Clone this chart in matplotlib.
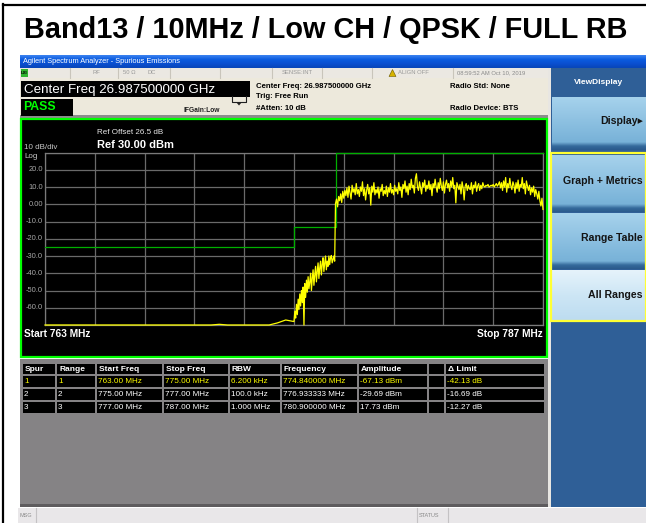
import numpy as np
import matplotlib
matplotlib.use("Agg")
import matplotlib.pyplot as plt
from matplotlib.patches import Rectangle, Polygon
from matplotlib.colors import LinearSegmentedColormap

plt.rcParams['font.family'] = ['Liberation Sans', 'DejaVu Sans']

# ---------------- data ----------------
title = "Band13 / 10MHz / Low CH / QPSK / FULL RB"
start_mhz = 763.0
stop_mhz = 787.0
ref_dbm = 30.0
bottom_dbm = -70.0
y_tick_vals = [20, 10, 0, -10, -20, -30, -40, -50, -60]
y_tick_labels = ["20.0", "10.0", "0.00", "-10.0", "-20.0", "-30.0", "-40.0", "-50.0", "-60.0"]

# limit line (MHz, dBm)
limit_freq = [763.0, 775.0, 775.0, 777.0, 777.0, 787.0]
limit_dbm = [-25.0, -25.0, -13.0, -13.0, 30.0, 30.0]

# trace, range 1 : 763-775 MHz (sits on the display floor)
range1_dbm = [-70.0, -70.0, -70.0, -70.0, -70.0, -70.0, -70.0, -70.0, -70.0, -70.0,
              -70.0, -70.0, -70.0, -70.0, -70.0, -70.0, -70.0, -70.0, -70.0, -70.0,
              -70.0, -69.6, -70.0, -70.0, -70.0, -70.0, -70.0, -70.0, -68.8, -67.1]
# trace, range 2 : 775-777 MHz
range2_dbm = [-68, -62, -66, -58, -64, -55, -61, -52, -59, -50,
              -57, -48, -70, -46, -54, -44, -51, -42, -49, -45,
              -40, -50, -43, -38, -47, -41, -36, -45, -39, -34,
              -43, -37, -33, -41, -35, -31, -39, -34, -30, -38,
              -33, -36, -30, -35, -31, -29.7, -34, -32, -30, -33]
# trace, range 3 : 777-787 MHz
range3_dbm = [0.5, 3.0, -1.5, 4.5, 2.0, 6.0, 1.0, 7.5, 3.5, 8.0,
              5.0, 9.5, 4.0, 10.5, 6.5, 3.0, 11.0, 7.0, 9.0, 5.5,
              12.0, 6.0, 8.5, 4.5, 10.0, 7.5, 13.0, 5.0, 9.0, 2.5,
              8.0, 11.5, 6.0, 9.5, -0.5, 10.5, 7.0, 12.5, 5.5, 8.5,
              6.5, 10.0, 3.5, 9.0, 7.5, 11.5, 5.0, 8.0, 6.0, 10.5,
              4.5, 9.5, 7.0, 12.0, 6.5, 8.5, 5.5, 11.0, 7.5, 9.0,
              6.0, 12.5, 8.0, 10.0, 4.0, 11.5, 9.0, 13.5, 7.0, 10.5,
              5.5, 12.0, 8.5, 14.5, 9.5, 11.0, 6.5, 15.0, 17.7, 10.0,
              8.0, 13.0, 9.5, 6.0, 12.5, 10.0, 14.0, 7.5, 11.0, 9.0,
              13.5, 8.5, 11.5, 5.0, 12.0, 9.5, 14.5, 10.0, 7.0, 12.5,
              9.0, 15.0, 10.5, 8.0, 13.0, 6.5, 11.5, 14.0, 9.5, 12.0,
              7.5, 13.5, 10.0, 15.5, 9.0, 11.0, 0.8, 12.5, 10.5, 8.5,
              11.5, 6.0, 13.0, 9.5, 2.5, 10.5, 12.0, 8.0, 11.0, 9.0,
              8.5, 12.5, 6.0, 11.0, 9.5, 13.0, 7.5, 10.5, 12.0, 8.0,
              11.0, 9.0, 12.5, 10.5, 10.0, 11.0, 10.5, 11.5, 10.0, 10.5,
              11.0, 10.5, 11.5, 10.0, 11.0, 12.0, 10.5, 11.5, 13.0, 9.5,
              12.5, 8.0, 13.5, 10.0, 15.5, 7.0, 12.0, 9.5, 15.0, 10.5,
              8.5, 13.0, 11.0, 6.5, 12.5, 9.0, 14.0, 7.5, 11.5, 10.0,
              15.5, 9.0, 12.0, 6.0, 13.5, 10.5, 8.0, 11.0, 5.5, 9.5,
              7.0, 10.5, 4.5, 8.5, 6.0, 3.0, 7.5, 2.0, -1.0, 3.5,
              -3.0]
range_edges = [763.0, 775.0, 777.0, 787.0]

# results table
spur_no = [1, 2, 3]
range_no = [1, 2, 3]
range_start = [763.00, 775.00, 777.00]
range_stop = [775.00, 777.00, 787.00]
rbw_text = ["6.200 kHz", "100.0 kHz", "1.000 MHz"]
spur_freq = [774.840000, 776.933333, 780.900000]
spur_amp = [-67.13, -29.69, 17.73]
range_limit = [-25.0, -13.0, 30.0]
table_header = ["Spur", "Range", "Start Freq", "Stop Freq", "RBW", "Frequency", "Amplitude", "", "\u0394 Limit"]

# ---------------- figure ----------------
W, H = 646, 523
fig = plt.figure(figsize=(W / 100, H / 100), dpi=100)
fig.patch.set_facecolor("white")
ui = fig.add_axes([0, 0, 1, 1])
ui.set_axis_off()


def rect(x0, y0, x1, y1, fc, ec="none", lw=0, z=1):
    ui.add_patch(Rectangle((x0, y0), x1 - x0, y1 - y0, facecolor=fc, edgecolor=ec, linewidth=lw, zorder=z))


def grad(x0, y0, x1, y1, colors, z=1):
    cmap = LinearSegmentedColormap.from_list("g", colors)
    ui.imshow(np.linspace(0, 1, 64).reshape(-1, 1), cmap=cmap, extent=[x0, x1, y1, y0],
              aspect="auto", zorder=z, interpolation="bilinear")


def txt(x, y, s, size, color="black", weight="normal", ha="left", va="center", z=5, **kw):
    ui.text(x, y, s, fontsize=size, color=color, fontweight=weight, ha=ha, va=va, zorder=z, **kw)


# outer frame
ui.plot([3, 3], [4, 523], color="black", lw=1.6, zorder=6)
ui.plot([3, 646], [4.5, 4.5], color="black", lw=1.6, zorder=6)

# title
txt(326, 30, title, 20.8, weight="bold", ha="center")

# window title bar
grad(20, 55, 646, 68, ["#3d84f0", "#0b5ce0", "#0a4fd0", "#0846b8"])
txt(23, 61.5, "Agilent Spectrum Analyzer - Spurious Emissions", 5.3, color="white")

# main beige background
rect(20, 68, 550, 118, "#ede9dc")
# status row
rect(20, 68, 550, 78, "#ebe8e2")
for xd in [70, 118, 170, 220, 272, 322, 372, 453]:
    ui.plot([xd, xd], [68, 78], color="#c9c5bb", lw=0.8, zorder=3)
rect(21, 69, 28, 77, "#2fb52f", z=3)
txt(24.5, 73, "LXI", 3.2, color="black", ha="center", weight="bold")
txt(96, 73, "RF", 4.2, color="#9a9a9a", ha="center")
txt(129, 73, "50 \u03a9", 4.2, color="#9a9a9a", ha="center")
txt(152, 73, "DC", 4.2, color="#9a9a9a", ha="center")
txt(297, 73, "SENSE:INT", 4.2, color="#9a9a9a", ha="center")
ui.add_patch(Polygon([[389, 76.5], [396, 76.5], [392.5, 69.5]], closed=True, facecolor="#d7b400",
                     edgecolor="#6b5a00", lw=0.4, zorder=4))
txt(398, 73, "ALIGN OFF", 4.2, color="#9a9a9a")
txt(457, 73, "08:59:52 AM Oct 10, 2019", 4.2, color="#8a8a8a")

# center freq box + PASS box
rect(21, 81, 250, 97, "black", z=3)
txt(24, 89.5, "Center Freq 26.987500000 GHz", 9.6, color="white", z=6)
rect(21, 99, 73, 116, "black", z=3)
txt(23, 107.5, "PASS", 8.8, color="#00ff00", weight="bold", z=6)
txt(183, 111, "IFGain:Low", 4.8, weight="bold", color="#202020")
ui.plot([232, 232, 246, 246], [96, 102, 102, 96], color="#202020", lw=0.8, zorder=4)
ui.add_patch(Polygon([[236, 102], [242, 102], [239, 105.5]], closed=True, facecolor="#202020", zorder=4))

# measurement info
txt(256, 87, "Center Freq: 26.987500000 GHz", 5.6, weight="bold")
txt(256, 97, "Trig: Free Run", 5.6, weight="bold")
txt(256, 108, "#Atten: 10 dB", 5.6, weight="bold")
txt(450, 87, "Radio Std: None", 5.6, weight="bold")
txt(450, 108, "Radio Device: BTS", 5.6, weight="bold")

# soft key panel
rect(550, 68, 646, 507, "#2f5f97", z=1)
rect(548, 68, 551, 507, "#e8e6e2", z=2)
txt(598, 82, "ViewDisplay", 6.0, color="white", weight="bold", ha="center")


def softkey(y0, y1, top, bottom, label, z=3):
    grad(552, y0, 646, y1 - 8, [top, bottom], z=z)
    grad(552, y1 - 8, 646, y1, [bottom, "#356a9c", "#2a5a8c"], z=z)
    txt(643, (y0 + y1 - 6) / 2, label, 7.6, weight="bold", ha="right", color="#141414", z=z + 2)


softkey(97, 150, "#a6d2ec", "#78b2d8", "Display\u25b8")
rect(550.5, 153, 646, 321, "none", ec="#ffff33", lw=1.6, z=6)
softkey(155, 212, "#a6d2ec", "#78b2d8", "Graph + Metrics")
softkey(213, 269, "#a6d2ec", "#78b2d8", "Range Table")
grad(552, 270, 646, 320, ["#e6f3fb", "#cde6f5", "#bddcf0"], z=3)
txt(643, 295, "All Ranges", 7.6, weight="bold", ha="right", color="#141414")

# graph window
rect(20, 115, 548, 118, "#8c8c8c", z=2)
rect(21, 118.5, 547, 357, "black", ec="#00ff00", lw=1.6, z=2)
txt(97, 133, "Ref Offset 26.5 dB", 5.8, color="#e8e8e8")
txt(97, 145, "Ref 30.00 dBm", 8.0, color="white", weight="bold")
txt(24, 147.5, "10 dB/div", 5.8, color="#c8c8c8")
txt(24, 157, "Log", 5.8, color="#c8c8c8")
txt(24, 334, "Start %d MHz" % start_mhz, 7.3, color="white", weight="bold")
txt(543, 334, "Stop %d MHz" % stop_mhz, 7.3, color="white", weight="bold", ha="right")

# table
rect(20, 359, 548, 506, "#858385", z=2)
rect(20, 504, 548, 507, "#5e5c5e", z=2)
col_x = [22, 56, 96, 163, 229, 281, 358, 428, 445, 545]
row_y = [363, 375, 388, 401, 414]
for r in range(4):
    for c in range(len(col_x) - 1):
        rect(col_x[c] + 0.6, row_y[r] + 0.6, col_x[c + 1] - 0.6, row_y[r + 1] - 0.6, "black", z=3)
for c, h in enumerate(table_header):
    txt(col_x[c] + 3, (row_y[0] + row_y[1]) / 2 + 0.3, h, 6.0, color="white", weight="bold", z=6)
for i in range(3):
    vals = [str(spur_no[i]), str(range_no[i]), "%.2f MHz" % range_start[i], "%.2f MHz" % range_stop[i],
            rbw_text[i], "%.6f MHz" % spur_freq[i], "%.2f dBm" % spur_amp[i], "",
            "%.2f dB" % (spur_amp[i] - range_limit[i])]
    col = "#ffff00" if i == 0 else "white"
    yc = (row_y[i + 1] + row_y[i + 2]) / 2 + 0.3
    for c, v in enumerate(vals):
        txt(col_x[c] + 2, yc, v, 5.9, color=col, z=6)

# bottom status bar
rect(18, 508, 646, 523, "#e9e7e9", z=2)
for xd in [36, 417, 448]:
    ui.plot([xd, xd], [508, 523], color="#c4c2c4", lw=0.8, zorder=3)
txt(20, 515.5, "MSG", 4.0, color="#8a8a8a")
txt(419, 515.5, "STATUS", 4.0, color="#8a8a8a")

ui.set_xlim(0, W)
ui.set_ylim(H, 0)

# ---------------- spectrum axes ----------------
gx0, gx1, gy0, gy1 = 45, 543, 152.5, 325
ax = fig.add_axes([gx0 / W, 1 - gy1 / H, (gx1 - gx0) / W, (gy1 - gy0) / H], zorder=10)
ax.set_facecolor("black")
ax.set_xlim(start_mhz, stop_mhz)
ax.set_ylim(bottom_dbm, ref_dbm)
ax.set_xticks(np.linspace(start_mhz, stop_mhz, 11))
ax.set_yticks(np.linspace(bottom_dbm, ref_dbm, 11))
ax.grid(True, color="#6a6a6a", lw=0.9)
ax.tick_params(length=0, labelbottom=False, labelleft=False)
for s in ax.spines.values():
    s.set_color("#7a7a7a")
    s.set_linewidth(0.9)

ax.plot(limit_freq, limit_dbm, color="#00b000", lw=0.9, zorder=3, clip_on=False)

f1 = np.linspace(range_edges[0], range_edges[1], len(range1_dbm), endpoint=False)
f2 = np.linspace(range_edges[1], range_edges[2], len(range2_dbm), endpoint=False)
f3 = np.linspace(range_edges[2], range_edges[3], len(range3_dbm))
tf = np.concatenate([f1, f2, f3])
td = np.concatenate([range1_dbm, range2_dbm, range3_dbm])
ax.plot(tf, td, color="#ffff00", lw=0.9, zorder=4, clip_on=False)

for v, lab in zip(y_tick_vals, y_tick_labels):
    ax.text(-0.004, v, lab, transform=ax.get_yaxis_transform(), ha="right", va="center",
            fontsize=5.4, color="#a8a8a8")

fig.savefig("out.png", dpi=100, facecolor="white")
